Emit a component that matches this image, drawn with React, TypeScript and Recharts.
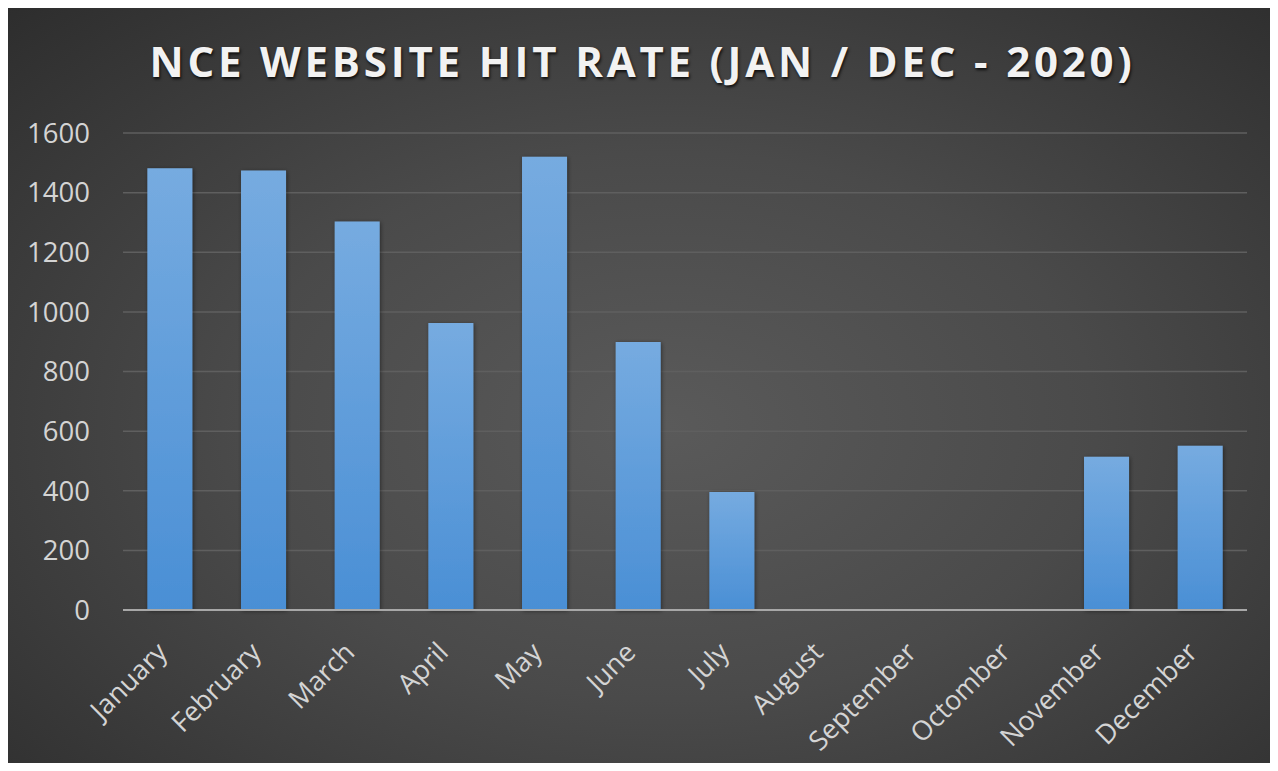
import React from "react";
import { BarChart, Bar, XAxis, YAxis, CartesianGrid } from "recharts";

const months = ["January", "February", "March", "April", "May", "June", "July", "August", "September", "Octomber", "November", "December"];
const hits = [1482, 1474, 1303, 963, 1520, 899, 396, 0, 0, 0, 514, 551];
const yTicks = [0, 200, 400, 600, 800, 1000, 1200, 1400, 1600];
const title = "NCE WEBSITE HIT RATE (JAN / DEC - 2020)";

const data = months.map((m, i) => ({ month: m, hits: hits[i] }));

const FONT = "'Open Sans', 'Liberation Sans', sans-serif";

const XTick = (props: any) => {
  const { x, y, payload } = props;
  return (
    <text
      transform={`translate(${x - 1},${y + 36}) rotate(-45)`}
      textAnchor="end"
      fill="#d4d4d4"
      fontSize={27}
      fontFamily={FONT}
    >
      {payload.value}
    </text>
  );
};

export default function App() {
  return (
    <div style={{ margin: -8, width: 1278, height: 771, background: "#ffffff", position: "relative", overflow: "hidden" }}>
      <div
        style={{
          position: "absolute",
          left: 7,
          top: 8,
          width: 1271,
          height: 760,
          background: "radial-gradient(ellipse 75% 80% at 52% 55%, #5a5a5a 0%, #4a4a4a 45%, #2c2c2c 100%)",
        }}
      >
        <div
          style={{
            position: "absolute",
            left: 0,
            top: 28,
            width: 1271,
            textAlign: "center",
            fontFamily: FONT,
            fontWeight: 700,
            fontSize: 42,
            lineHeight: "50px",
            color: "#f2f2f2",
            letterSpacing: 3.8,
            textShadow: "1px 2px 3px rgba(0,0,0,0.8)",
          }}
        >
          {title}
        </div>
        <div style={{ position: "absolute", left: 0, top: 0 }}>
          <BarChart
            width={1271}
            height={760}
            data={data}
            margin={{ top: 125, right: 31, bottom: 0, left: 0 }}
            barCategoryGap="26%"
          >
            <defs>
              <linearGradient id="barGrad" x1="0" y1="0" x2="0" y2="1">
                <stop offset="0%" stopColor="#76abe0" />
                <stop offset="100%" stopColor="#4a8fd5" />
              </linearGradient>
              <filter id="barShadow" x="-20%" y="-5%" width="140%" height="110%">
                <feDropShadow dx="1" dy="1" stdDeviation="2" floodColor="#000" floodOpacity="0.45" />
              </filter>
            </defs>
            <CartesianGrid vertical={false} stroke="#5f5f5f" strokeWidth={1.5} />
            <YAxis
              domain={[0, 1600]}
              ticks={yTicks}
              width={116}
              axisLine={false}
              tickLine={false}
              tickSize={0}
              tickMargin={33}
              tick={{ fill: "#d4d4d4", fontSize: 27.5, fontFamily: FONT }}
            />
            <XAxis
              dataKey="month"
              height={158}
              interval={0}
              axisLine={{ stroke: "#a8a8a8", strokeWidth: 2 }}
              tickLine={false}
              tick={<XTick />}
            />
            <Bar
              dataKey="hits"
              fill="url(#barGrad)"
              filter="url(#barShadow)"
              isAnimationActive={false}
            />
          </BarChart>
        </div>
      </div>
    </div>
  );
}
